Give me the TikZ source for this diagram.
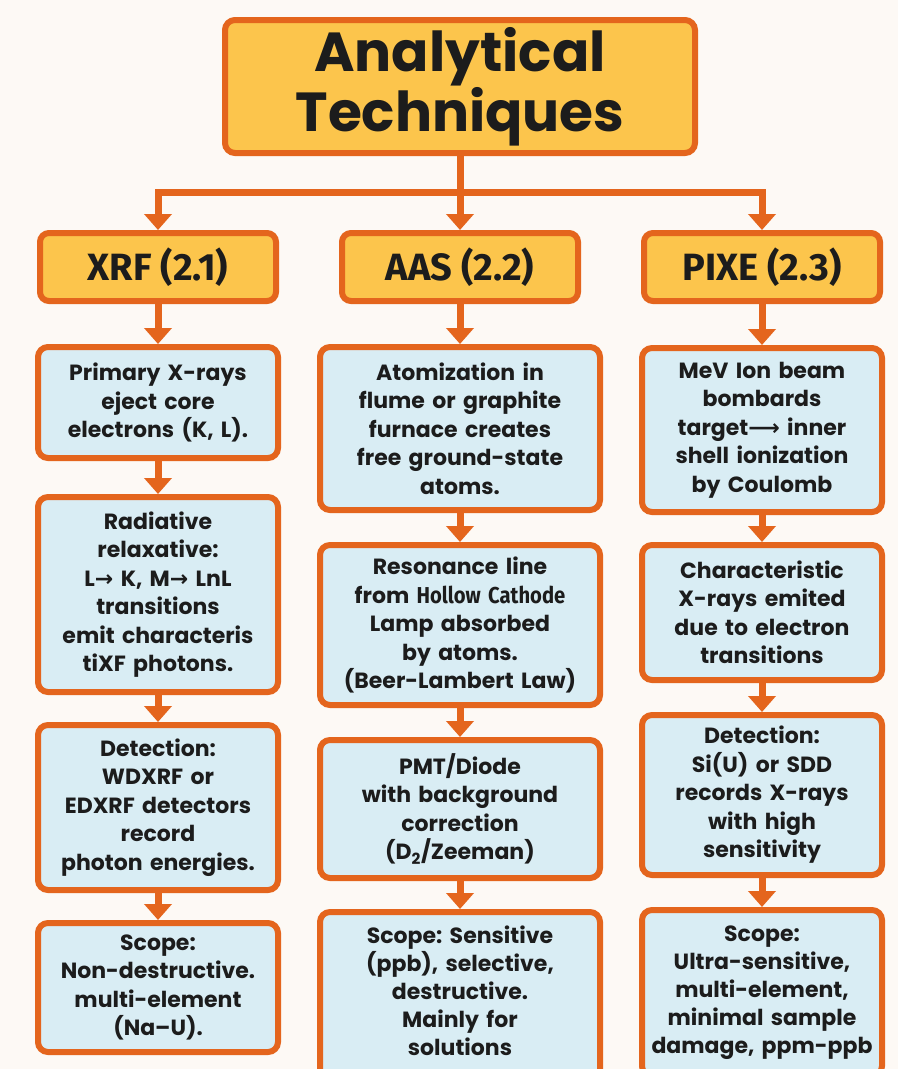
\documentclass[tikz,border=0pt]{standalone}
\usepackage{fontspec}
\setmainfont{Poppins}
\newfontfamily\hdrfont{Fira Sans}
\newfontfamily\narrowfont{Fira Sans}[FakeStretch=0.88]
\newfontfamily\djv{DejaVu Sans}
\usetikzlibrary{arrows.meta}
\definecolor{bgc}{HTML}{FDF9F5}
\definecolor{ora}{HTML}{E4651D}
\definecolor{gold}{HTML}{FCC54C}
\definecolor{lblue}{HTML}{D9EDF4}
\definecolor{ink}{HTML}{1C1C1C}
\tikzset{
  titlebox/.style={draw=ora, line width=6pt, fill=gold, rounded corners=10pt, align=center,
    text=ink, font=\fontsize{55}{52}\selectfont\bfseries, minimum width=470pt, minimum height=133pt, inner sep=0pt},
  headbox/.style={draw=ora, line width=6pt, fill=gold, rounded corners=9pt, align=center,
    text=ink, font=\hdrfont\fontsize{38}{40}\selectfont\bfseries, minimum width=236pt, minimum height=68pt, inner sep=0pt},
  infobox/.style={draw=ora, line width=6pt, fill=lblue, rounded corners=10pt, align=center,
    text=ink, font=\frenchspacing\fontsize{22}{28.5}\selectfont\bfseries, inner xsep=3pt, inner ysep=0pt},
  flow/.style={draw=ora, line width=7pt, -{Triangle[width=27pt,length=16pt]}, line join=miter}
}
\newcommand{\rar}{{\djv\bfseries →}}
\newcommand{\lrar}{{\djv\bfseries ⟶}}
\begin{document}
\begin{tikzpicture}[x=1pt,y=-1pt]
\useasboundingbox (0,0) rectangle (898,1069);
\clip (0,0) rectangle (898,1069);
\fill[bgc] (0,0) rectangle (898,1069);

% title
\node[titlebox] (title) at (460,86.5) {Analytical\\Techniques};

% headers
\node[headbox] (hx) at (158,267) {XRF (2.1)};
\node[headbox] (ha) at (460,267) {AAS (2.2)};
\node[headbox] (hp) at (762,267) {PIXE (2.3)};

\coordinate (bus) at (460,192);

% XRF column
\node[infobox, text width=234pt, minimum height=111pt] (x1) at (158,402.5)
  {Primary X-rays\\eject core\\electrons (K, L).};
\node[infobox, text width=234pt, minimum height=195pt] (x2) at (158,594.5)
  {Radiative\\relaxative:\\L\rar\ K, M\rar\ LnL\\transitions\\emit characteris\\tiXF photons.};
\node[infobox, text width=234pt, minimum height=165pt] (x3) at (158,807.5)
  {Detection:\\WDXRF or\\EDXRF detectors\\record\\photon energies.};
\node[infobox, text width=234pt, minimum height=129pt] (x4) at (158,987.5)
  {Scope:\\Non-destructive.\\multi-element\\(Na–U).};

% AAS column
\node[infobox, text width=274pt, minimum height=163pt] (a1) at (460,428.5)
  {Atomization in\\flume or graphite\\furnace creates\\free ground-state\\atoms.};
\node[infobox, text width=274pt, minimum height=160pt] (a2) at (460,625)
  {Resonance line\\from {\narrowfont\fontsize{23}{28.5}\selectfont\bfseries Hollow Cathode}\\Lamp absorbed\\by atoms.\\(Beer-Lambert Law)};
\node[infobox, text width=274pt, minimum height=138pt] (a3) at (460,809)
  {PMT/Diode\\with background\\correction\\(D\textsubscript{2}/Zeeman)};
\node[infobox, text width=274pt, minimum height=176pt, font=\frenchspacing\fontsize{22}{28}\selectfont\bfseries] (a4) at (460,1000)
  {Scope: Sensitive\\(ppb), selective,\\destructive.\\Mainly for\\solutions\\[-10pt]\mbox{}};

% PIXE column
\node[infobox, text width=234pt, minimum height=164pt] (p1) at (762,430)
  {MeV Ion beam\\bombards\\target\lrar\ inner\\shell ionization\\by Coulomb};
\node[infobox, text width=234pt, minimum height=135pt] (p2) at (762,612.5)
  {Characteristic\\X-rays emited\\due to electron\\transitions};
\node[infobox, text width=234pt, minimum height=160pt] (p3) at (762,795)
  {Detection:\\Si(U) or SDD\\records X-rays\\with high\\sensitivity};
\node[infobox, text width=234pt, minimum height=166pt, font=\frenchspacing\fontsize{22}{28}\selectfont\bfseries] (p4) at (762,993)
  {Scope:\\Ultra-sensitive,\\multi-element,\\minimal sample\\damage, ppm-ppb};

% connectors from title
\draw[flow] (title.south) -- (bus) -| (hx.north);
\draw[flow] (title.south) -- (bus) -| (hp.north);
\draw[flow] (title.south) -- (ha.north);

% column connectors
\draw[flow] (hx.south) -- (x1.north);
\draw[flow] (x1.south) -- (x2.north);
\draw[flow] (x2.south) -- (x3.north);
\draw[flow] (x3.south) -- (x4.north);

\draw[flow] (ha.south) -- (a1.north);
\draw[flow] (a1.south) -- (a2.north);
\draw[flow] (a2.south) -- (a3.north);
\draw[flow] (a3.south) -- (a4.north);

\draw[flow] (hp.south) -- (p1.north);
\draw[flow] (p1.south) -- (p2.north);
\draw[flow] (p2.south) -- (p3.north);
\draw[flow] (p3.south) -- (p4.north);
\end{tikzpicture}
\end{document}
